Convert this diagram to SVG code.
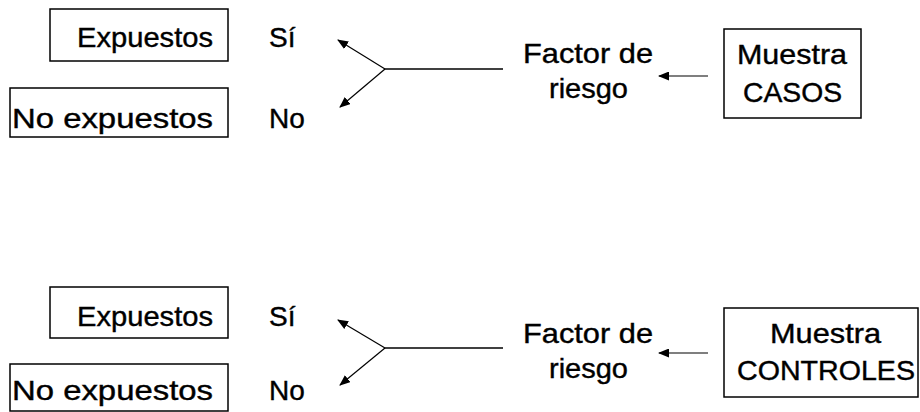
<svg xmlns="http://www.w3.org/2000/svg" width="920" height="412" viewBox="0 0 920 412">
<style>
text{font-family:"Liberation Sans",Arial,sans-serif;font-size:28px;fill:#000;stroke:#000;stroke-width:0.4}
.box{fill:#fff;stroke:#000;stroke-width:1.5}
.ln{stroke:#000;stroke-width:1.5;fill:none}
.ar{stroke:#000;stroke-width:1.2;fill:none;marker-end:url(#ah)}
</style>
<defs>
<marker id="ah" markerWidth="11" markerHeight="9" refX="10" refY="4.5" orient="auto" markerUnits="userSpaceOnUse">
<path d="M0,0 L11,4.5 L0,9 Z" fill="#000"/>
</marker>
</defs>
<rect width="920" height="412" fill="#fff"/>

<g id="exp1"><rect class="box" x="50" y="9" width="178" height="52"/><text x="77" y="47" textLength="136" lengthAdjust="spacingAndGlyphs">Expuestos</text></g>
<g id="noexp1"><rect class="box" x="10" y="88" width="218" height="49"/><text x="12" y="128" textLength="201" lengthAdjust="spacingAndGlyphs">No expuestos</text></g>
<g id="si1"><text x="269" y="47">Sí</text></g>
<g id="no1"><text x="269" y="128">No</text></g>
<g id="factor1"><text x="523" y="63" textLength="130" lengthAdjust="spacingAndGlyphs">Factor de</text><text x="549" y="98" textLength="79" lengthAdjust="spacingAndGlyphs">riesgo</text></g>
<g id="casos"><rect class="box" x="724" y="29" width="137" height="89"/><text x="737" y="64" textLength="110" lengthAdjust="spacingAndGlyphs">Muestra</text><text x="743" y="102" textLength="99" lengthAdjust="spacingAndGlyphs">CASOS</text></g>

<g id="exp2"><rect class="box" x="50" y="287" width="178" height="51"/><text x="77" y="326" textLength="136" lengthAdjust="spacingAndGlyphs">Expuestos</text></g>
<g id="noexp2"><rect class="box" x="10" y="364" width="218" height="47"/><text x="12" y="400" textLength="201" lengthAdjust="spacingAndGlyphs">No expuestos</text></g>
<g id="si2"><text x="269" y="326">Sí</text></g>
<g id="no2"><text x="269" y="400">No</text></g>
<g id="factor2"><text x="523" y="343" textLength="130" lengthAdjust="spacingAndGlyphs">Factor de</text><text x="549" y="378" textLength="79" lengthAdjust="spacingAndGlyphs">riesgo</text></g>
<g id="controles"><rect class="box" x="724" y="308" width="194" height="89"/><text x="770" y="343" textLength="111" lengthAdjust="spacingAndGlyphs">Muestra</text><text x="737" y="380" textLength="178" lengthAdjust="spacingAndGlyphs">CONTROLES</text></g>

<g id="connectors">
<line class="ln" x1="385" y1="69" x2="503" y2="69"/>
<line class="ar" x1="385" y1="69" x2="338" y2="40"/>
<line class="ar" x1="385" y1="69" x2="340" y2="107"/>
<line class="ar" x1="708" y1="76" x2="659" y2="76"/>
<line class="ln" x1="385" y1="348" x2="503" y2="348"/>
<line class="ar" x1="385" y1="348" x2="338" y2="320"/>
<line class="ar" x1="385" y1="348" x2="340" y2="385"/>
<line class="ar" x1="708" y1="353" x2="659" y2="353"/>
</g>
</svg>
